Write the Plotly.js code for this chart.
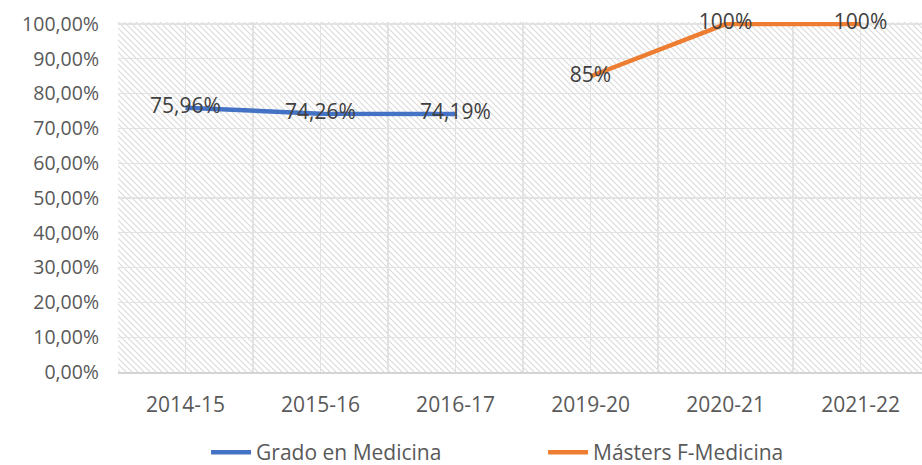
<!DOCTYPE html>
<html>
<head>
<meta charset="utf-8">
<script src="https://cdn.plot.ly/plotly-3.0.1.min.js"></script>
<style>html,body{margin:0;padding:0;background:#fff;overflow:hidden;width:922px;height:465px}</style>
</head>
<body>
<div id="chart" style="width:922px;height:473px"></div>
<script>
const categories = ["2014-15", "2015-16", "2016-17", "2019-20", "2020-21", "2021-22"];
const gradoX = ["2014-15", "2015-16", "2016-17"];
const gradoValues = [0.7596, 0.7426, 0.7419];
const masterX = ["2019-20", "2020-21", "2021-22"];
const masterValues = [0.85, 1.00, 1.00];
const yTickVals = [0, 0.1, 0.2, 0.3, 0.4, 0.5, 0.6, 0.7, 0.8, 0.9, 1.0];

const idx = c => categories.indexOf(c);

const hatch = 'data:image/svg+xml;utf8,' + encodeURIComponent(
  '<svg xmlns="http://www.w3.org/2000/svg" width="804" height="350" viewBox="0 0 804 350" preserveAspectRatio="none">' +
  '<defs><pattern id="p" patternUnits="userSpaceOnUse" width="6" height="6">' +
  '<path d="M-1,-1 L7,7 M-1,5 L1,7 M5,-1 L7,1" stroke="#dadada" stroke-width="1.1"/></pattern></defs>' +
  '<rect width="804" height="350" fill="#ffffff"/><rect width="804" height="350" fill="url(#p)"/></svg>');

const font = "'Open Sans', 'Noto Sans', sans-serif";

const traces = [
  {
    x: gradoX.map(idx), y: gradoValues, name: "Grado en Medicina",
    mode: "lines+text", type: "scatter",
    line: {color: "#4472C4", width: 4.5},
    texttemplate: "%{y:.2%}", textposition: "middle center",
    textfont: {family: font, size: 21, color: "#404040"},
    cliponaxis: false, hoverinfo: "skip"
  },
  {
    x: masterX.map(idx), y: masterValues, name: "Másters F-Medicina",
    mode: "lines+text", type: "scatter",
    line: {color: "#ED7D31", width: 4.5},
    texttemplate: "%{y:.0%}", textposition: "middle center",
    textfont: {family: font, size: 21, color: "#404040"},
    cliponaxis: false, hoverinfo: "skip"
  }
];

const layout = {
  width: 922, height: 473,
  margin: {l: 118, r: 0, t: 22, b: 101},
  separators: ",.",
  paper_bgcolor: "#ffffff",
  plot_bgcolor: "rgba(0,0,0,0)",
  font: {family: font, size: 19, color: "#595959"},
  showlegend: true,
  legend: {orientation: "h", x: 0.589, xanchor: "center", xref: "container",
           y: 0, yanchor: "bottom", yref: "container",
           entrywidth: 282, entrywidthmode: "pixels",
           font: {family: font, size: 21, color: "#595959"}, itemwidth: 40,
           bgcolor: "rgba(0,0,0,0)"},
  xaxis: {
    type: "linear", range: [-0.5, 5.455],
    tickmode: "array", tickvals: categories.map((c, i) => i), ticktext: categories,
    showgrid: true, gridcolor: "#e2e2e2", gridwidth: 1.2,
    minor: {tick0: 0.5, dtick: 1, showgrid: true, gridcolor: "#e2e2e2", gridwidth: 1.2},
    zeroline: false, showline: true, linecolor: "#d4d4d4", linewidth: 1.5,
    ticks: "", ticklabelstandoff: 13,
    tickfont: {family: font, size: 21, color: "#595959"}, fixedrange: true
  },
  yaxis: {
    range: [0, 1.006],
    tickmode: "array", tickvals: yTickVals, tickformat: ".2%",
    showgrid: true, gridcolor: "#e2e2e2", gridwidth: 1.2,
    zeroline: false, showline: false, ticks: "", ticklabelstandoff: 18,
    tickfont: {family: font, size: 19.5, color: "#595959"}, fixedrange: true
  },
  images: [{
    source: hatch, xref: "paper", yref: "paper", x: 0, y: 1, sizex: 1, sizey: 1,
    xanchor: "left", yanchor: "top", sizing: "stretch", layer: "below"
  }]
};

Plotly.newPlot("chart", traces, layout, {displayModeBar: false, staticPlot: true});
</script>
</body>
</html>
